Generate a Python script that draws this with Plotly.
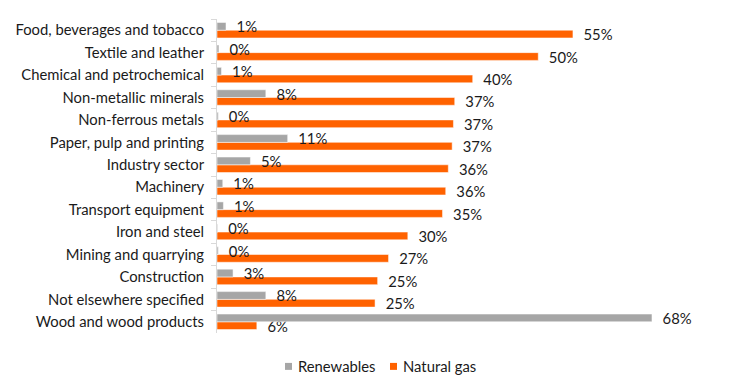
import plotly.graph_objects as go

categories = [
    "Food, beverages and tobacco",
    "Textile and leather",
    "Chemical and petrochemical",
    "Non-metallic minerals",
    "Non-ferrous metals",
    "Paper, pulp and printing",
    "Industry sector",
    "Machinery",
    "Transport equipment",
    "Iron and steel",
    "Mining and quarrying",
    "Construction",
    "Not elsewhere specified",
    "Wood and wood products",
]
renewables = [1.4, 0.3, 0.7, 7.6, 0.2, 11.0, 5.2, 0.9, 1.0, 0.1, 0.2, 2.5, 7.6, 67.7]
natural_gas = [55.4, 50.0, 39.8, 37.0, 36.8, 36.6, 36.0, 35.6, 35.1, 29.7, 26.7, 25.0, 24.6, 6.2]
series_names = ["Renewables", "Natural gas"]
series_colors = ["#a6a6a6", "#ff6200"]

FONT = "Lato"
FS = 14.8
TXT = "#1a1a1a"
BW = 0.345  # width of each bar in category units

fig = go.Figure()
# Natural gas drawn first (lower slot), Renewables second so its labels sit on top
fig.add_trace(go.Bar(
    y=categories, x=natural_gas, orientation="h", name=series_names[1],
    width=BW, offset=0,
    marker=dict(color=series_colors[1], line=dict(color="white", width=0.5)),
    texttemplate="\u00a0\u00a0%{x:.0f}%", textposition="outside", constraintext="none",
    textfont=dict(family=FONT, size=FS, color=TXT), cliponaxis=False,
    showlegend=False,
))
fig.add_trace(go.Bar(
    y=categories, x=renewables, orientation="h", name=series_names[0],
    width=BW, offset=-BW,
    marker=dict(color=series_colors[0], line=dict(color="white", width=0.5)),
    texttemplate="\u00a0\u00a0%{x:.0f}%", textposition="outside", constraintext="none",
    textfont=dict(family=FONT, size=FS, color=TXT), cliponaxis=False,
    showlegend=False,
))

# custom compact legend (small squares close to the text)
legend_x = [285, 390]  # pixel x of square left edges
shapes, annotations = [], []
for lx, name, col in zip(legend_x, series_names, series_colors):
    shapes.append(dict(type="rect", xref="paper", yref="paper",
                       x0=(lx - 217) / 514, x1=(lx + 7 - 217) / 514,
                       y0=-(370.5 - 333.5) / 315, y1=-(363.5 - 333.5) / 315,
                       fillcolor=col, line=dict(width=0)))
    annotations.append(dict(xref="paper", yref="paper", x=(lx + 11 - 217) / 514,
                            y=-(367 - 333.5) / 315, text=name, showarrow=False,
                            xanchor="left", yanchor="middle",
                            font=dict(family=FONT, size=FS, color=TXT)))

fig.update_layout(
    width=744, height=391,
    margin=dict(l=217, r=13, t=18.5, b=57.5, autoexpand=False),
    barmode="overlay",
    plot_bgcolor="white", paper_bgcolor="white",
    font=dict(family=FONT, size=FS, color=TXT),
    shapes=shapes, annotations=annotations,
    showlegend=False,
)
fig.update_xaxes(range=[0, 80], visible=False, fixedrange=True, automargin=False)
fig.update_yaxes(autorange="reversed", showline=True, linecolor="#d9d9d9", linewidth=1,
                 ticks="outside", ticklen=5, tickcolor="#d9d9d9",
                 tickson="boundaries", ticklabelstandoff=9, automargin=False,
                 tickfont=dict(family=FONT, size=FS, color=TXT), showgrid=False)

fig.write_html("out.html", config={"displayModeBar": False},
               post_script="document.body.style.margin='0';document.body.style.overflow='hidden';")
